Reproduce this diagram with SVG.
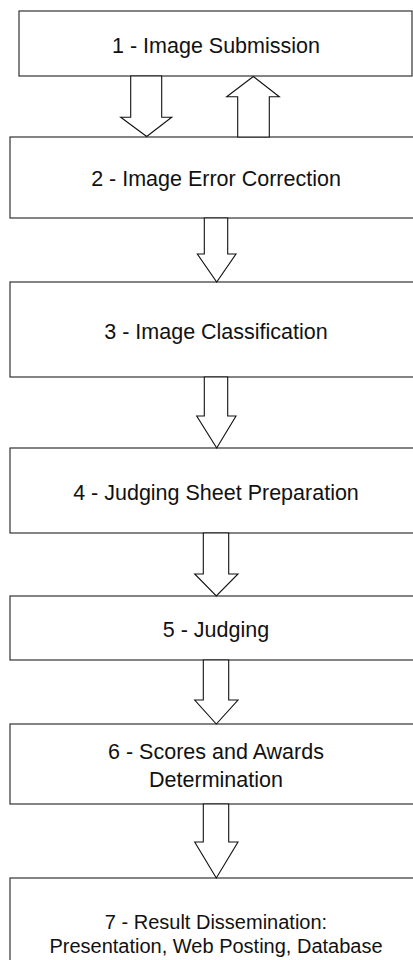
<svg xmlns="http://www.w3.org/2000/svg" width="413" height="960" viewBox="0 0 413 960">
<style>
.box{fill:#ffffff;stroke:#333333;stroke-width:1.2}
.arr{fill:#ffffff;stroke:#111111;stroke-width:1.1;stroke-linejoin:miter}
.t{font-family:"Liberation Sans",Arial,Helvetica,sans-serif;font-size:21.5px;fill:#111111;text-anchor:middle}
.t7{font-size:20px}
</style>
<rect width="413" height="960" fill="#ffffff"/>
<g id="node1"><rect class="box" x="19" y="11" width="393" height="65"/><text class="t" x="216" y="52.5">1 - Image Submission</text></g>
<g id="node2"><rect class="box" x="10" y="137" width="410" height="81"/><text class="t" x="216" y="186">2 - Image Error Correction</text></g>
<g id="node3"><rect class="box" x="10" y="282" width="410" height="95"/><text class="t" x="216" y="339">3 - Image Classification</text></g>
<g id="node4"><rect class="box" x="10" y="448" width="410" height="85"/><text class="t" x="216" y="499.5">4 - Judging Sheet Preparation</text></g>
<g id="node5"><rect class="box" x="10" y="596" width="410" height="64"/><text class="t" x="216" y="637">5 - Judging</text></g>
<g id="node6"><rect class="box" x="10" y="724" width="410" height="80"/><text class="t" x="216" y="759">6 - Scores and Awards</text><text class="t" x="216" y="787">Determination</text></g>
<g id="node7"><rect class="box" x="10" y="878" width="410" height="100"/><text class="t t7" x="216" y="929">7 - Result Dissemination:</text><text class="t t7" x="216" y="953">Presentation, Web Posting, Database</text></g>
<g id="connectors">
<polygon class="arr" points="130.7,76 161.7,76 161.7,117.3 171.7,117.3 146.7,136.5 120.7,117.3 130.7,117.3"/>
<polygon class="arr" points="237.7,137 269.3,137 269.3,96.7 279.3,96.7 253.3,76.5 226.7,96.7 237.7,96.7"/>
<polygon class="arr" points="204.3,218 227.7,218 227.7,254 236,254 216.7,282 197.3,254 204.3,254"/>
<polygon class="arr" points="204.3,377 227.7,377 227.7,416 236,416 216.7,448 196.7,416 204.3,416"/>
<polygon class="arr" points="203.3,533 228.7,533 228.7,574 238,574 216.3,596 194.7,574 203.3,574"/>
<polygon class="arr" points="203.3,660 228.7,660 228.7,700 238,700 216.3,724 194.7,700 203.3,700"/>
<polygon class="arr" points="203.3,804 228.7,804 228.7,842 238,842 216.3,878 194.7,842 203.3,842"/>
</g>
</svg>
